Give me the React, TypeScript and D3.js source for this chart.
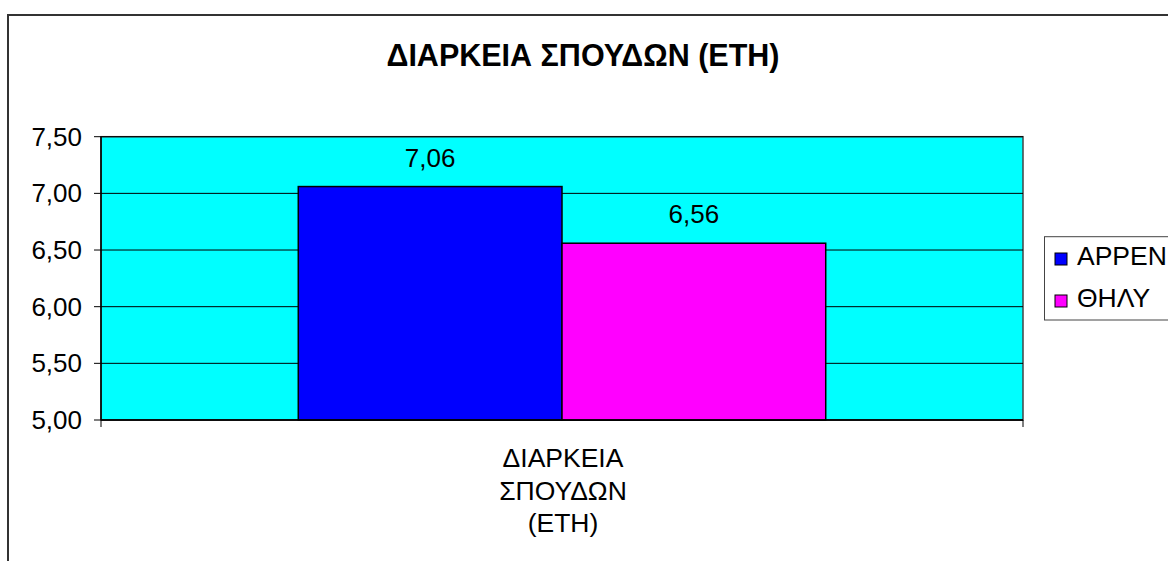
import React from "react";
import * as d3 from "d3";

const categories = ["ΔΙΑΡΚΕΙΑ ΣΠΟΥΔΩΝ (ΕΤΗ)"];
const categoryLines = ["ΔΙΑΡΚΕΙΑ", "ΣΠΟΥΔΩΝ", "(ΕΤΗ)"];
const seriesNames = ["ΑΡΡΕΝ", "ΘΗΛΥ"];
const seriesValues = [7.06, 6.56];
const seriesColors = ["#0000FF", "#FF00FF"];
const yTicks = [5.0, 5.5, 6.0, 6.5, 7.0, 7.5];
const title = "ΔΙΑΡΚΕΙΑ ΣΠΟΥΔΩΝ (ΕΤΗ)";

const W = 1168;
const H = 561;
const plot = { left: 101, right: 1023, top: 136.7, bottom: 420 };
const fmt = (v: number) => v.toFixed(2).replace(".", ",");
const font = "'Liberation Sans', Arial, sans-serif";

export default function App() {
  const y = d3.scaleLinear().domain([5, 7.5]).range([plot.bottom, plot.top]);
  const x0 = d3.scaleBand().domain(categories).range([plot.left, plot.right]).paddingInner(0).paddingOuter(0.374);
  const x1 = d3.scaleBand().domain(seriesNames).range([0, x0.bandwidth()]);

  return (
    <svg width={W} height={H} style={{ position: "absolute", left: 0, top: 0, display: "block" }} fontFamily={font}>
      <rect x={0} y={0} width={W} height={H} fill="#fff" />
      <rect x={8} y={15} width={1300} height={700} fill="#fff" stroke="#333" strokeWidth={2} />
      <text x={583} y={66} textAnchor="middle" fontSize={30.5} fontWeight="bold" fill="#000">{title}</text>
      <rect x={plot.left} y={plot.top} width={plot.right - plot.left} height={plot.bottom - plot.top} fill="#00FFFF" stroke="#444" strokeWidth={1.5} />
      {yTicks.map((t) => (
        <g key={t}>
          <line x1={plot.left} x2={plot.right} y1={y(t)} y2={y(t)} stroke="#000" strokeWidth={1} />
          <line x1={94} x2={plot.left} y1={y(t)} y2={y(t)} stroke="#000" strokeWidth={1} />
          <text x={82} y={y(t) + 9} textAnchor="end" fontSize={26} fill="#000">{fmt(t)}</text>
        </g>
      ))}
      {categories.map((c) => (
        <g key={c} transform={`translate(${x0(c)},0)`}>
          {seriesNames.map((s, i) => (
            <g key={s}>
              <rect x={x1(s)} y={y(seriesValues[i])} width={x1.bandwidth()} height={plot.bottom - y(seriesValues[i])} fill={seriesColors[i]} stroke="#000" strokeWidth={1.5} />
              <text x={(x1(s) as number) + x1.bandwidth() / 2} y={y(seriesValues[i]) - 20} textAnchor="middle" fontSize={26} fill="#000">{fmt(seriesValues[i])}</text>
            </g>
          ))}
        </g>
      ))}
      <line x1={plot.left} x2={plot.right} y1={plot.bottom} y2={plot.bottom} stroke="#000" strokeWidth={1.5} />
      <line x1={plot.left} x2={plot.left} y1={plot.top} y2={plot.bottom} stroke="#000" strokeWidth={1.5} />
      {[plot.left, plot.right].map((xx) => (
        <line key={xx} x1={xx} x2={xx} y1={plot.bottom} y2={plot.bottom + 7} stroke="#000" strokeWidth={1} />
      ))}
      {categoryLines.map((l, i) => (
        <text key={l} x={(plot.left + plot.right) / 2 + 1} y={467 + i * 32.5} textAnchor="middle" fontSize={26.5} fill="#000">{l}</text>
      ))}
      <rect x={1044.5} y={236.7} width={200} height={83.3} fill="#fff" stroke="#444" strokeWidth={1} />
      {seriesNames.map((s, i) => (
        <g key={s}>
          <rect x={1055} y={253 + i * 42} width={12} height={12} fill={seriesColors[i]} stroke="#000" strokeWidth={1} />
          <text x={1077} y={265 + i * 42} fontSize={26.5} fill="#000">{s}</text>
        </g>
      ))}
    </svg>
  );
}
